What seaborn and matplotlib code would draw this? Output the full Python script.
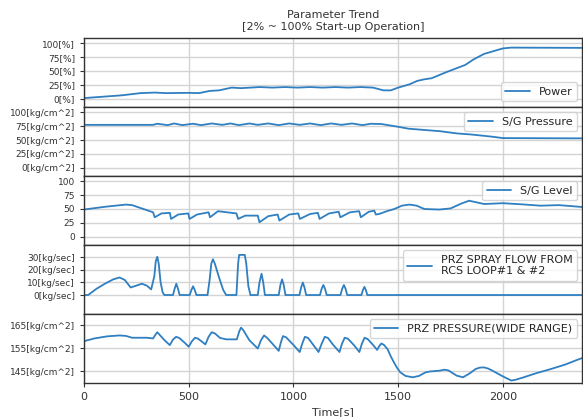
import numpy as np
import pandas as pd
import matplotlib
matplotlib.use("Agg")
import matplotlib.pyplot as plt
import seaborn as sns

# Power [%]
power_t = [0, 180, 270, 340, 390, 500, 550, 600, 645, 705, 750, 840, 900, 960, 1020, 1080,
           1140, 1200, 1260, 1320, 1380, 1430, 1465, 1500, 1555, 1590, 1625, 1660, 1730,
           1820, 1860, 1910, 2000, 2040, 2400]
power_v = [1, 6, 10, 11, 10, 10.5, 10, 14, 15, 20, 19, 21, 20, 21, 20, 21,
           20, 21, 20, 21, 20, 15, 15, 20, 26, 32, 35, 37, 48,
           61, 71, 81, 91, 92.5, 92]

# S/G pressure [kg/cm^2]
sgp_t = [0, 330, 350, 400, 430, 470, 520, 560, 610, 660, 700, 740, 790, 830, 880,
         930, 980, 1030, 1080, 1130, 1180, 1230, 1280, 1330, 1370, 1420, 1500, 1550,
         1600, 1700, 1780, 1850, 1950, 2000, 2400]
sgp_v = [77.5, 77.5, 79.5, 77, 80, 77, 79.5, 77, 80, 77.5, 80, 77, 80, 77.5, 80,
         77, 80, 77.5, 80, 77, 80, 77.5, 80, 77, 79.5, 79, 74, 70.5,
         69, 66, 62, 60, 56, 53.5, 53]

# S/G level [%]
sgl_t = [0, 100, 200, 230, 330, 338, 370, 410, 416, 450, 498, 504, 540, 595, 602, 640,
         728, 736, 770, 830, 838, 880, 925, 933, 980, 1023, 1031, 1080, 1117, 1125, 1170,
         1216, 1224, 1270, 1314, 1322, 1360, 1386, 1394, 1410, 1446, 1482, 1518, 1554,
         1589, 1625, 1696, 1750, 1803, 1839, 1875, 1911, 2000, 2089, 2179, 2268, 2400]
sgl_v = [49, 54, 58, 57, 44, 35, 42, 43, 32, 40, 42, 32, 40, 44, 35, 46,
         42, 32, 38, 38, 26, 37, 40, 29, 40, 42, 32, 41, 43, 32, 42,
         45, 35, 44, 46, 35, 45, 47, 40, 41, 46, 50, 56, 58,
         56, 50, 49, 51, 60, 65, 62, 59, 60.5, 58.5, 56, 57, 53]

# PRZ spray flow [kg/sec]
spray_t = [0, 20, 60, 100, 140, 170, 195, 223, 250, 277, 300, 321, 336, 343, 350, 357,
           366, 376, 384, 425, 433, 441, 449, 457, 505, 513, 521, 529, 537, 590, 600,
           608, 616, 625, 645, 665, 679, 728, 736, 741, 768, 775, 785, 795, 830, 838,
           848, 856, 864, 930, 938, 946, 954, 962, 1029, 1037, 1045, 1053, 1061, 1127,
           1135, 1143, 1151, 1159, 1225, 1233, 1241, 1249, 1257, 1325, 1332, 1339, 1346,
           1353, 2400]
spray_v = [0, 0, 5, 9, 12.5, 14, 12, 6, 7.5, 9, 7.5, 4.5, 15, 27, 30.5, 25,
           10, 2, 0, 0, 5, 9, 5, 0, 0, 4, 7, 4, 0, 0, 12,
           25, 28.5, 25, 14, 4, 0, 0, 25, 32, 32, 25, 7, 0, 0, 10,
           17, 10, 0, 0, 8, 12.5, 8, 0, 0, 6, 10, 6, 0, 0,
           5, 8, 5, 0, 0, 5, 8, 5, 0, 0, 4, 6.5, 4,
           0, 0]

# PRZ pressure (wide range) [kg/cm^2]
przp_t = [0, 50, 110, 170, 200, 230, 300, 330, 342, 350, 360, 385, 410, 425, 440, 455,
          480, 500, 515, 530, 545, 580, 595, 610, 625, 650, 680, 730, 742, 750, 760,
          790, 830, 845, 860, 875, 900, 930, 940, 950, 965, 1000, 1030, 1042, 1055,
          1070, 1095, 1120, 1135, 1150, 1165, 1190, 1220, 1232, 1245, 1260, 1290, 1315,
          1327, 1340, 1355, 1380, 1400, 1410, 1420, 1432, 1450, 1465, 1480, 1495, 1510,
          1535, 1570, 1600, 1630, 1650, 1700, 1720, 1740, 1780, 1810, 1840, 1870, 1890,
          1910, 1930, 1950, 2000, 2040, 2060, 2100, 2160, 2230, 2300, 2350, 2400]
przp_v = [158.1, 159.3, 160.2, 160.6, 160.4, 159.6, 159.6, 159.3, 161, 162, 161, 158.5,
          156.4, 158.8, 160, 159.5, 157.5, 155.7, 158, 159.6, 159.2, 156.7, 160, 162,
          161.5, 159.5, 158.9, 158.9, 162.5, 164, 163, 158.5, 154.9, 158.5, 160.6,
          159.5, 157, 153.9, 157.5, 160.3, 159.8, 156.5, 153.4, 157, 160, 159.5, 156.5,
          153.4, 157, 160, 159.5, 156.5, 153.4, 157, 159.6, 159.2, 156.3, 153.4, 157,
          159.6, 159, 156.5, 154.3, 156, 157.1, 156.5, 154.6, 151.5, 148.9, 146.5,
          144.6, 143, 142.4, 143, 144.5, 144.9, 145.3, 145.7, 145.4, 143.1, 142.4, 144,
          146, 146.6, 146.7, 146.2, 145.3, 142.8, 141, 141.3, 142.4, 144.2, 146, 148,
          149.8, 151.5]

series = [
    (power_t, power_v, "Power", [0, 25, 50, 75, 100], "[%]", (-15, 110), "lower right"),
    (sgp_t, sgp_v, "S/G Pressure", [0, 25, 50, 75, 100], "[kg/cm^2]", (-15, 110), "upper right"),
    (sgl_t, sgl_v, "S/G Level", [0, 25, 50, 75, 100], "", (-15, 110), "upper right"),
    (spray_t, spray_v, "PRZ SPRAY FLOW FROM\nRCS LOOP#1 & #2", [0, 10, 20, 30], "[kg/sec]",
     (-15, 40), "upper right"),
    (przp_t, przp_v, "PRZ PRESSURE(WIDE RANGE)", [145, 155, 165], "[kg/cm^2]", (140, 170),
     "upper right"),
]

sns.set_style("ticks", {"axes.grid": True, "grid.color": "#d4d4d4", "axes.edgecolor": "#333333"})
plt.rcParams["font.family"] = ["DejaVu Sans"]

fig, axs = plt.subplots(5, 1, figsize=(5.83, 4.17), dpi=100, sharex=True)
fig.subplots_adjust(left=0.144, right=0.999, top=0.909, bottom=0.082, hspace=0)

for ax, (t, v, label, ticks, unit, ylim, loc) in zip(axs, series):
    df = pd.DataFrame({"t": t, "v": v})
    sns.lineplot(data=df, x="t", y="v", ax=ax, color="#2f7fc1", linewidth=1.3, label=label)
    ax.set_ylim(*ylim)
    ax.set_yticks(ticks)
    ax.set_yticklabels([f"{k}{unit}" for k in ticks], fontsize=6.5)
    ax.set_ylabel("")
    ax.set_xlabel("")
    ax.grid(True, color="#d4d4d4", linewidth=1.0)
    ax.tick_params(axis="both", length=3, color="#333333", labelcolor="#333333")
    for s in ax.spines.values():
        s.set_linewidth(1.0)
    leg = ax.legend(loc=loc, fontsize=8, frameon=True, handlelength=2.2)
    leg.get_frame().set_edgecolor("#cccccc")

axs[-1].set_xlim(0, 2380)
axs[-1].set_xticks([0, 500, 1000, 1500, 2000])
axs[-1].tick_params(axis="x", labelsize=8)
axs[-1].set_xlabel("Time[s]", fontsize=8, color="#333333")
axs[0].set_title("Parameter Trend\n[2% ~ 100% Start-up Operation]", fontsize=8, color="#333333")

fig.savefig("out.png", dpi=100)
